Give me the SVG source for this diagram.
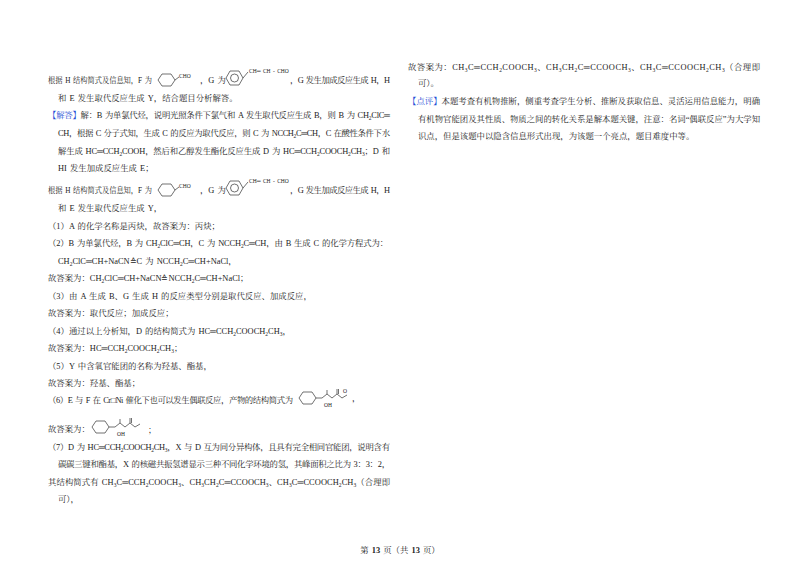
<svg xmlns="http://www.w3.org/2000/svg" width="800" height="565" viewBox="0 0 800 565">
<style>
text{font-family:"Liberation Serif","Noto Serif CJK SC","Noto Sans CJK SC",serif;font-size:8.4px;fill:#222;word-spacing:1px}
.b{fill:#1f4fd6}
.s{font-size:5.5px;baseline-shift:-2px}
.sm{font-size:5.5px}
.st{fill:none;stroke:#333;stroke-width:0.7}
</style>
<rect width="800" height="565" fill="#fff"/>
<g id="left">
<text x="48" y="83" textLength="104" lengthAdjust="spacingAndGlyphs">根据 H 结构简式及信息知，F 为</text>
<g class="st"><path d="M158,80 l4,-6 h9 l4,6 l-4,6 h-9 z"/><path d="M175,80 l4,-3"/></g>
<text x="179" y="78" class="sm">CHO</text>
<text x="200" y="83">，G 为</text>
<g class="st"><path d="M226,78 l4,-7 h9 l4,7 l-4,7 h-9 z"/><circle cx="234.5" cy="78" r="4"/><path d="M243,78 l5,-6"/></g>
<text x="249" y="73" class="sm">CH═ CH - CHO</text>
<text x="290" y="83" textLength="100" lengthAdjust="spacing">，G 发生加成反应生成 H，H</text>
<text x="58" y="101">和 E 发生取代反应生成 Y，结合题目分析解答。</text>
<text x="48" y="118" textLength="342" lengthAdjust="spacing"><tspan class="b">【解答】</tspan>解：B 为单氯代烃，说明光照条件下氯气和 A 发生取代反应生成 B，则 B 为 CH<tspan class="s">2</tspan>ClC═</text>
<text x="58" y="136" textLength="332" lengthAdjust="spacing">CH，根据 C 分子式知，生成 C 的反应为取代反应，则 C 为 NCCH<tspan class="s">2</tspan>C═CH，C 在酸性条件下水</text>
<text x="58" y="154" textLength="332" lengthAdjust="spacing">解生成 HC═CCH<tspan class="s">2</tspan>COOH，然后和乙醇发生酯化反应生成 D 为 HC═CCH<tspan class="s">2</tspan>COOCH<tspan class="s">2</tspan>CH<tspan class="s">3</tspan>；D 和</text>
<text x="58" y="171">HI 发生加成反应生成 E；</text>

<text x="48" y="193" textLength="104" lengthAdjust="spacingAndGlyphs">根据 H 结构简式及信息知，F 为</text>
<g class="st"><path d="M158,190 l4,-6 h9 l4,6 l-4,6 h-9 z"/><path d="M175,190 l4,-3"/></g>
<text x="179" y="188" class="sm">CHO</text>
<text x="200" y="193">，G 为</text>
<g class="st"><path d="M226,188 l4,-7 h9 l4,7 l-4,7 h-9 z"/><circle cx="234.5" cy="188" r="4"/><path d="M243,188 l5,-6"/></g>
<text x="249" y="183" class="sm">CH═ CH - CHO</text>
<text x="290" y="193" textLength="100" lengthAdjust="spacing">，G 发生加成反应生成 H，H</text>
<text x="58" y="211">和 E 发生取代反应生成 Y，</text>
<text x="48" y="229">（1）A 的化学名称是丙炔，故答案为：丙炔；</text>
<text x="48" y="246" textLength="340" lengthAdjust="spacing">（2）B 为单氯代烃，B 为 CH<tspan class="s">2</tspan>ClC═CH，C 为 NCCH<tspan class="s">2</tspan>C═CH，由 B 生成 C 的化学方程式为：</text>
<text x="58" y="264">CH<tspan class="s">2</tspan>ClC═CH+NaCN≙C 为 NCCH<tspan class="s">2</tspan>C═CH+NaCl，</text>
<text x="48" y="281">故答案为：CH<tspan class="s">2</tspan>ClC═CH+NaCN≙NCCH<tspan class="s">2</tspan>C═CH+NaCl；</text>
<text x="48" y="299">（3）由 A 生成 B、G 生成 H 的反应类型分别是取代反应、加成反应，</text>
<text x="48" y="316">故答案为：取代反应；加成反应；</text>
<text x="48" y="334">（4）通过以上分析知，D 的结构简式为 HC═CCH<tspan class="s">2</tspan>COOCH<tspan class="s">2</tspan>CH<tspan class="s">3</tspan>，</text>
<text x="48" y="351">故答案为：HC═CCH<tspan class="s">2</tspan>COOCH<tspan class="s">2</tspan>CH<tspan class="s">3</tspan>；</text>
<text x="48" y="369">（5）Y 中含氧官能团的名称为羟基、酯基，</text>
<text x="48" y="386">故答案为：羟基、酯基；</text>
<text x="48" y="403" textLength="245" lengthAdjust="spacing">（6）E 与 F 在 Cr□Ni 催化下也可以发生偶联反应，产物的结构简式为</text>
<g class="st"><path d="M299,398 l4,-6 h9 l4,6 l-4,6 h-9 z"/><path d="M316,398 h6 l5,-4 l5,4 l5,-4 l5,4 l5,-3"/><path d="M327,394 v-4"/><path d="M337,394 v-5 M338.5,394 v-5"/></g>
<text x="324" y="407" class="sm">OH</text>
<text x="343" y="393" class="sm">O</text>
<text x="352" y="401">，</text>
<text x="48" y="432">故答案为：</text>
<g class="st"><path d="M92,427 l4,-6 h9 l4,6 l-4,6 h-9 z"/><path d="M109,427 h6 l5,-4 l5,4 l5,-4 l5,4 l5,-3"/><path d="M120,423 v-4"/><path d="M130,423 v-5 M131.5,423 v-5"/></g>
<text x="117" y="436" class="sm">OH</text>
<text x="148" y="433">；</text>
<text x="48" y="450" textLength="342" lengthAdjust="spacing">（7）D 为 HC═CCH<tspan class="s">2</tspan>COOCH<tspan class="s">2</tspan>CH<tspan class="s">3</tspan>，X 与 D 互为同分异构体，且具有完全相同官能团，说明含有</text>
<text x="58" y="467" textLength="332" lengthAdjust="spacing">碳碳三键和酯基，X 的核磁共振氢谱显示三种不同化学环境的氢，其峰面积之比为 3：3：2，</text>
<text x="48" y="485" textLength="342" lengthAdjust="spacing">其结构简式有 CH<tspan class="s">3</tspan>C═CCH<tspan class="s">2</tspan>COOCH<tspan class="s">3</tspan>、CH<tspan class="s">3</tspan>CH<tspan class="s">2</tspan>C═CCOOCH<tspan class="s">3</tspan>、CH<tspan class="s">3</tspan>C═CCOOCH<tspan class="s">2</tspan>CH<tspan class="s">3</tspan>（合理即</text>
<text x="58" y="502">可），</text>
</g>
<g id="right">
<text x="408" y="70" textLength="352" lengthAdjust="spacing">故答案为：CH<tspan class="s">3</tspan>C═CCH<tspan class="s">2</tspan>COOCH<tspan class="s">3</tspan>、CH<tspan class="s">3</tspan>CH<tspan class="s">2</tspan>C═CCOOCH<tspan class="s">3</tspan>、CH<tspan class="s">3</tspan>C═CCOOCH<tspan class="s">2</tspan>CH<tspan class="s">3</tspan>（合理即</text>
<text x="418" y="86">可）。</text>
<text x="408" y="104" textLength="352" lengthAdjust="spacing"><tspan class="b">【点评】</tspan>本题考查有机物推断，侧重考查学生分析、推断及获取信息、灵活运用信息能力，明确</text>
<text x="418" y="122" textLength="342" lengthAdjust="spacing">有机物官能团及其性质、物质之间的转化关系是解本题关键，注意：名词“偶联反应”为大学知</text>
<text x="418" y="139">识点，但是该题中以隐含信息形式出现，为该题一个亮点，题目难度中等。</text>
</g>
<text x="400" y="553" text-anchor="middle" font-size="7">第 <tspan font-weight="bold">13</tspan> 页（共 <tspan font-weight="bold">13</tspan> 页）</text>
</svg>
